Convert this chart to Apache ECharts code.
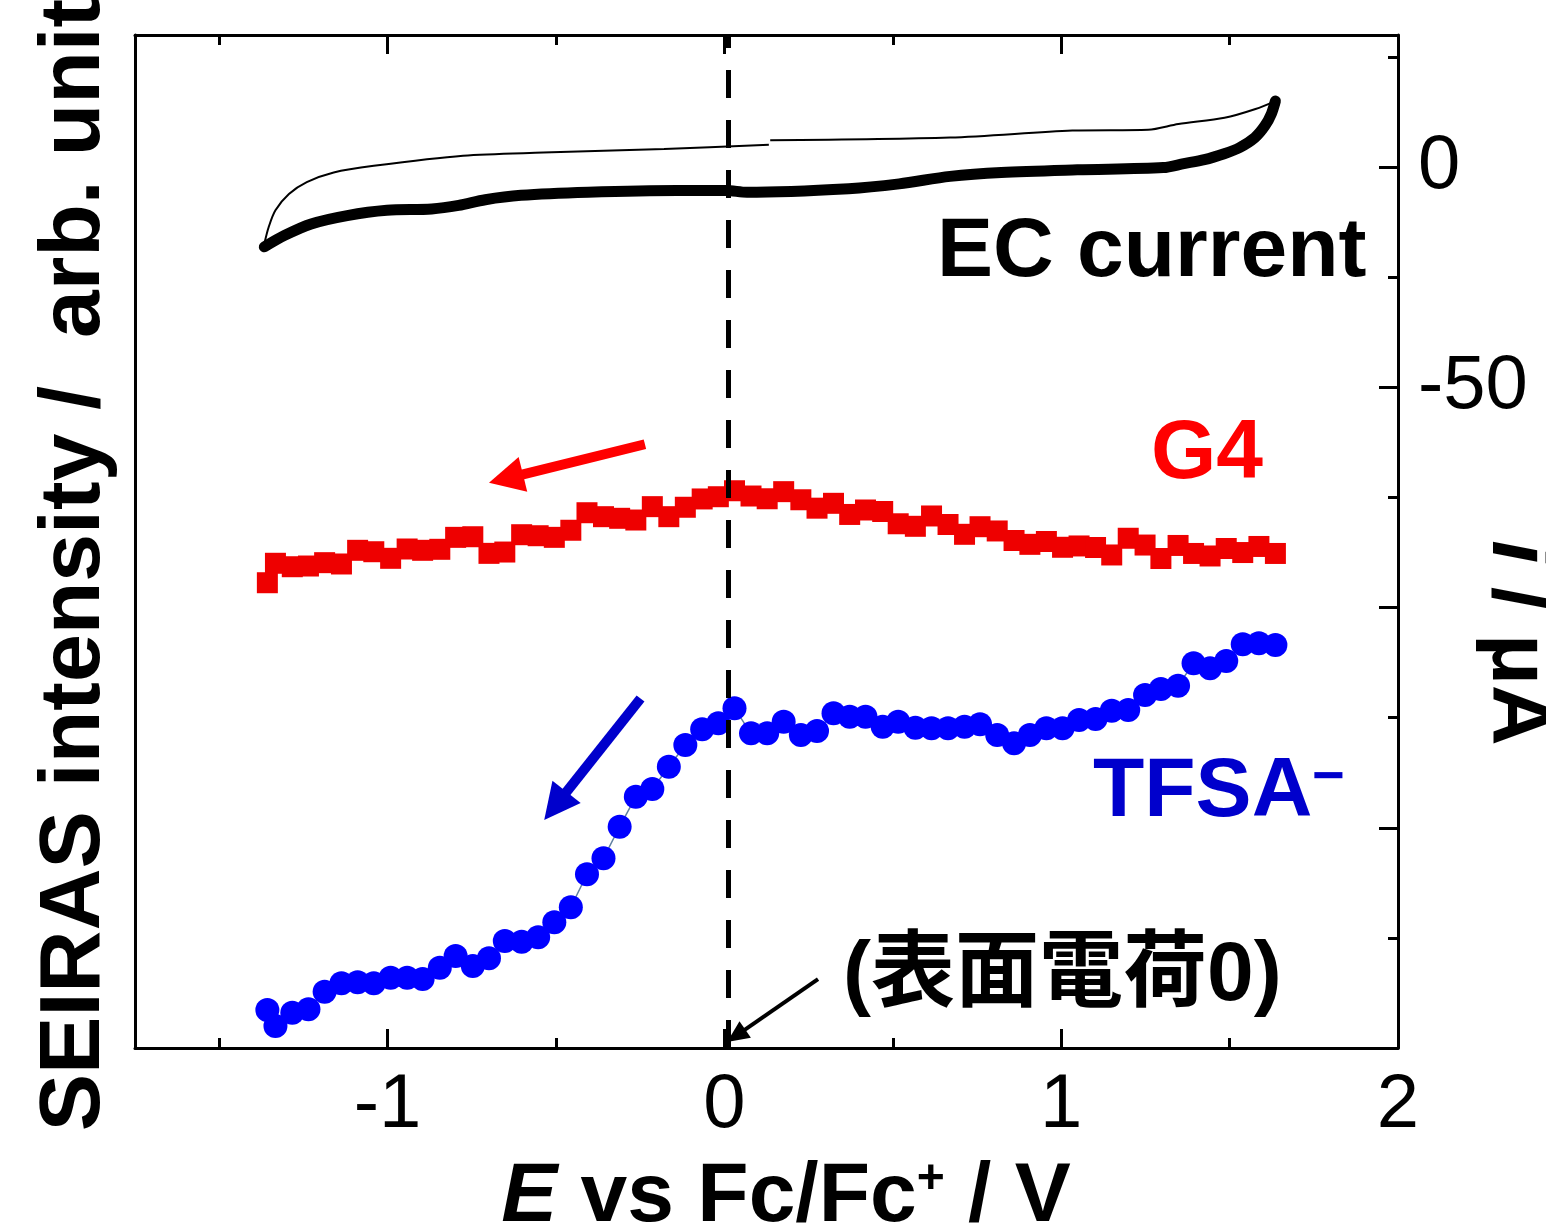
<!DOCTYPE html>
<html>
<head>
<meta charset="utf-8">
<script src="https://cdn.jsdelivr.net/npm/echarts@6/dist/echarts.min.js"></script>
<style>
    html, body { margin: 0; padding: 0; background: #fff; }
    #chart { width: 1546px; height: 1225px; }
</style>
</head>
<body>
<div id="chart"></div>
<script>
// electrode potential of each SEIRAS spectrum (V vs Fc/Fc+)
var potential = [
    -1.357, -1.333, -1.283, -1.235, -1.187, -1.137, -1.089, -1.041, -0.991, -0.942,
    -0.896, -0.845, -0.798, -0.747, -0.699, -0.652, -0.602, -0.553, -0.505, -0.456,
    -0.408, -0.359, -0.311, -0.263, -0.214, -0.165, -0.116, -0.066, -0.018, 0.030,
    0.079, 0.127, 0.176, 0.227, 0.275, 0.324, 0.372, 0.419, 0.470, 0.516,
    0.567, 0.615, 0.664, 0.713, 0.759, 0.810, 0.860, 0.907, 0.956, 1.004,
    1.053, 1.102, 1.150, 1.199, 1.249, 1.296, 1.347, 1.393, 1.442, 1.490,
    1.539, 1.587, 1.636
];
// band intensities, arb. unit (offset for display)
var g4Intensity = [
    45.93, 47.85, 47.51, 47.58, 47.91, 47.78, 49.13, 48.99, 48.34, 49.26,
    49.13, 49.23, 50.41, 50.47, 48.83, 48.96, 50.67, 50.57, 50.41, 51.11,
    52.84, 52.45, 52.29, 52.12, 53.44, 52.45, 53.38, 54.20, 54.42, 55.01,
    54.49, 54.22, 54.92, 54.12, 53.29, 53.77, 52.67, 53.11, 52.96, 51.75,
    51.50, 52.52, 51.68, 50.71, 51.46, 51.04, 50.10, 49.72, 50.00, 49.43,
    49.56, 49.41, 48.67, 50.32, 49.65, 48.32, 49.61, 48.82, 48.57, 49.31,
    48.91, 49.51, 48.82
];
var tfsaIntensity = [
    3.75, 2.17, 3.49, 3.82, 5.56, 6.39, 6.49, 6.39, 6.94, 6.94,
    6.81, 7.93, 9.08, 8.10, 8.86, 10.56, 10.49, 10.93, 12.41, 13.89,
    17.15, 18.73, 21.85, 24.81, 25.57, 27.77, 29.91, 31.46, 32.05, 33.53,
    31.06, 31.06, 32.21, 30.90, 31.29, 33.04, 32.71, 32.71, 31.72, 32.21,
    31.62, 31.56, 31.56, 31.72, 31.96, 30.90, 30.08, 30.90, 31.56, 31.56,
    32.38, 32.48, 33.30, 33.37, 34.85, 35.44, 35.77, 37.98, 37.48, 38.20,
    39.85, 39.95, 39.78
];

// EC current (uA), thin branch (upper) and thick branch (lower)
var ecUpperE = [-1.366, -1.353, -1.333, -1.293, -1.240, -1.160, -1.041, -0.776, -0.538, -0.179, 0.132, null,
                0.136, 0.670, 1.033, 1.258, 1.348, 1.485, 1.577, 1.636];
var ecUpperI = [-17.4, -13.6, -9.8, -6.1, -3.4, -1.2, 0.3, 2.6, 3.3, 4.1, 5.1, null,
                6.1, 6.7, 8.3, 8.5, 9.8, 11.2, 13.2, 15.0];
var ecLowerE = [-1.366, -1.306, -1.227, -1.120, -1.002, -0.869, -0.789, -0.710, -0.604, -0.405, -0.140, 0.005,
                0.067, 0.369, 0.519, 0.670, 0.822, 1.048, 1.303, 1.364, 1.425, 1.484, 1.529, 1.575, 1.605, 1.624, 1.636];
var ecLowerI = [-18.1, -15.5, -12.9, -11.0, -9.8, -9.5, -8.7, -7.4, -6.4, -5.7, -5.3, -5.3,
                -5.7, -4.9, -3.8, -2.1, -1.2, -0.6, -0.1, 0.8, 1.7, 3.05, 4.4, 6.7, 9.4, 12.1, 15.0];

var pzcPotential = 0.01;

var xMajorTicks = [-1, 0, 1, 2];
var xMinorTicks = [-1.5, -0.5, 0.5, 1.5];
var iMajorTicks = [-200, -150, -100, -50, 0];
var iMinorTicks = [-175, -125, -75, -25, 25];
var iTickLabels = [0, -50];

// arrows: [E start, intensity start, E tip, intensity tip]
var g4Arrow = [-0.236, 59.6, -0.699, 55.8];
var tfsaArrow = [-0.249, 34.5, -0.535, 22.5];
var pzcArrow = [0.278, 6.8, 0.008, 0.6];

function zip(a, b) {
    var out = [];
    for (var i = 0; i < a.length; i++) {
        out.push(a[i] === null ? [null, null] : [a[i], b[i]]);
    }
    return out;
}

var FONT = '"Liberation Sans", Arial, sans-serif';
var axisLine = {show: true, onZero: false, lineStyle: {color: '#000', width: 3}};

function xAxisCfg(position, ticks, len, withLine, withLabel) {
    return {
        type: 'value', position: position, min: -1.75, max: 2,
        axisLine: withLine ? axisLine : {show: false, onZero: false},
        axisTick: {show: true, inside: true, length: len, customValues: ticks,
                   lineStyle: {color: '#000', width: 3}},
        axisLabel: withLabel ? {show: true, customValues: ticks, margin: 20, fontSize: 76,
                                color: '#000', fontFamily: FONT} : {show: false},
        splitLine: {show: false}
    };
}

var chart = echarts.init(document.getElementById('chart'));

var xBottom = xAxisCfg('bottom', xMajorTicks, 19, true, true);
xBottom.name = '{it|E} vs Fc/Fc{sup|+} / V';
xBottom.nameLocation = 'middle';
xBottom.nameGap = 108;
xBottom.nameMoveOverlap = false;
xBottom.nameTextStyle = {
    padding: [0, 0, 0, 39],
    rich: {
        it: {fontSize: 84, fontWeight: 'bold', fontStyle: 'italic', fontFamily: FONT, color: '#000'},
        sup: {fontSize: 48, fontWeight: 'bold', fontFamily: FONT, color: '#000', verticalAlign: 'top', padding: [0, 0, 30, 0]}
    },
    fontSize: 84, fontWeight: 'bold', fontFamily: FONT, color: '#000'
};

var option = {
    animation: false,
    backgroundColor: '#fff',
    grid: {left: 135, right: 148, top: 35, bottom: 177, containLabel: false, outerBoundsMode: 'none'},
    xAxis: [
        xBottom,
        xAxisCfg('bottom', xMinorTicks, 10, false, false),
        xAxisCfg('top', xMajorTicks, 19, true, false),
        xAxisCfg('top', xMinorTicks, 10, false, false)
    ],
    yAxis: [
        {
            type: 'value', position: 'left', min: 0, max: 100,
            axisLine: axisLine, axisTick: {show: false}, axisLabel: {show: false},
            splitLine: {show: false},
            name: 'SEIRAS intensity /  arb. unit', nameLocation: 'middle', nameGap: 17,
            nameMoveOverlap: false,
            nameTextStyle: {fontSize: 86, fontWeight: 'bold', fontFamily: FONT, color: '#000',
                            padding: [0, 47, 0, 0]}
        },
        {
            type: 'value', position: 'right', min: -200, max: 30,
            axisLine: axisLine,
            axisTick: {show: true, inside: true, length: 19, customValues: iMajorTicks,
                       lineStyle: {color: '#000', width: 3}},
            axisLabel: {show: true, customValues: iTickLabels, margin: 20, fontSize: 76,
                        color: '#000', fontFamily: FONT},
            splitLine: {show: false},
            name: '{it|i} / μA', nameLocation: 'middle', nameGap: 76, nameRotate: -90,
            nameMoveOverlap: false,
            nameTextStyle: {
                fontSize: 84, fontWeight: 'bold', fontFamily: FONT, color: '#000',
                padding: [0, 0, 0, 203],
                rich: {it: {fontSize: 84, fontWeight: 'bold', fontStyle: 'italic', fontFamily: FONT, color: '#000'}}
            }
        },
        {
            type: 'value', position: 'right', min: -200, max: 30,
            axisLine: {show: false, onZero: false},
            axisTick: {show: true, inside: true, length: 10, customValues: iMinorTicks,
                       lineStyle: {color: '#000', width: 3}},
            axisLabel: {show: false}, splitLine: {show: false}
        }
    ],
    series: [
        {
            name: 'EC upper', type: 'line', xAxisIndex: 0, yAxisIndex: 1,
            data: zip(ecUpperE, ecUpperI), showSymbol: false, smooth: 0.3, connectNulls: false,
            lineStyle: {color: '#000', width: 2}
        },
        {
            name: 'EC lower', type: 'line', xAxisIndex: 0, yAxisIndex: 1,
            data: zip(ecLowerE, ecLowerI), showSymbol: false, smooth: 0.3,
            lineStyle: {color: '#000', width: 11, cap: 'round', join: 'round'}
        },
        {
            name: 'G4', type: 'line', xAxisIndex: 0, yAxisIndex: 0,
            data: zip(potential, g4Intensity),
            symbol: 'rect', symbolSize: 21, showSymbol: true,
            itemStyle: {color: '#ee0000'},
            lineStyle: {color: '#ee0000', width: 1}
        },
        {
            name: 'TFSA', type: 'line', xAxisIndex: 0, yAxisIndex: 0,
            data: zip(potential, tfsaIntensity),
            symbol: 'circle', symbolSize: 24, showSymbol: true,
            itemStyle: {color: '#0000ff'},
            lineStyle: {color: '#5f7fa0', width: 1.5}
        },
        {
            name: 'pzc', type: 'line', xAxisIndex: 0, yAxisIndex: 0, data: [], z: 10,
            markLine: {
                silent: true, symbol: ['none', 'none'], label: {show: false},
                lineStyle: {color: '#000', width: 5, type: [28, 22]},
                data: [{xAxis: pzcPotential}]
            }
        }
    ]
};
chart.setOption(option);

function arrowGraphic(spec, color, shaftWidth, headLen, headHalf) {
    var p0 = chart.convertToPixel({xAxisIndex: 0, yAxisIndex: 0}, [spec[0], spec[1]]);
    var p1 = chart.convertToPixel({xAxisIndex: 0, yAxisIndex: 0}, [spec[2], spec[3]]);
    var dx = p1[0] - p0[0], dy = p1[1] - p0[1];
    var len = Math.sqrt(dx * dx + dy * dy);
    var ux = dx / len, uy = dy / len;
    var bx = p1[0] - ux * headLen, by = p1[1] - uy * headLen;
    return [
        {type: 'polyline', z: 20, silent: true,
         shape: {points: [p0, [bx + ux * 2, by + uy * 2]]},
         style: {stroke: color, lineWidth: shaftWidth, fill: null}},
        {type: 'polygon', z: 20, silent: true,
         shape: {points: [p1, [bx - uy * headHalf, by + ux * headHalf], [bx + uy * headHalf, by - ux * headHalf]]},
         style: {fill: color}}
    ];
}

function label(text, x, y, color, extra) {
    var st = {text: text, x: x, y: y, fill: color, verticalAlign: 'middle',
              font: 'bold 84px ' + FONT};
    if (extra) { for (var k in extra) st[k] = extra[k]; }
    return {type: 'text', z: 20, silent: true, style: st};
}

var graphics = []
    .concat(arrowGraphic(g4Arrow, '#ff0000', 10, 35, 18))
    .concat(arrowGraphic(tfsaArrow, '#0000cc', 10, 36, 18))
    .concat(arrowGraphic(pzcArrow, '#000', 4, 22, 10));
graphics.push(label('EC current', 937, 253, '#000'));
graphics.push(label('G4', 1151, 455, '#ff0000'));
graphics.push(label('{m|TFSA}{s|−}', 1093, 793, '#0000cc', {
    rich: {
        m: {font: 'bold 84px ' + FONT, fill: '#0000cc'},
        s: {font: 'bold 56px ' + FONT, fill: '#0000cc', verticalAlign: 'top'}
    }
}));
graphics.push(label('(表面電荷0)', 843, 977, '#000',
    {font: 'bold 84px "Liberation Sans", "Noto Sans CJK JP", sans-serif'}));

chart.setOption({graphic: graphics});
</script>
</body>
</html>
